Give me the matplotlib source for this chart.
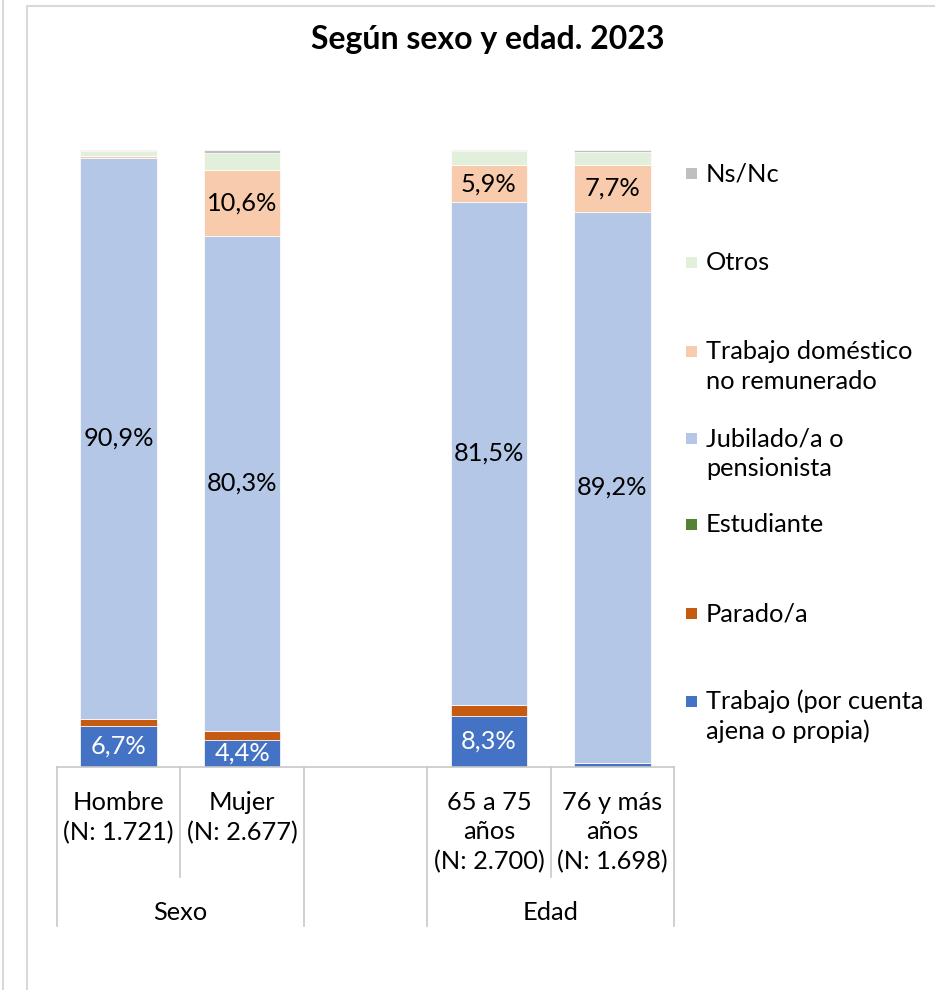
import matplotlib
matplotlib.use("Agg")
import matplotlib.pyplot as plt
import matplotlib.patches as mpatches
import matplotlib.transforms as mtrans
import numpy as np

plt.rcParams['font.family'] = ['Lato', 'DejaVu Sans']

# ---- data ----
categories = ["Hombre\n(N: 1.721)", "Mujer\n(N: 2.677)", "", "65 a 75\naños\n(N: 2.700)", "76 y más\naños\n(N: 1.698)"]
groups = ["Sexo", "Edad"]
series_names = ["Trabajo (por cuenta\najena o propia)", "Parado/a", "Estudiante",
                "Jubilado/a o\npensionista", "Trabajo doméstico\nno remunerado", "Otros", "Ns/Nc"]
trabajo    = [6.7, 4.4, np.nan, 8.3, 0.6]
parado     = [1.1, 1.4, np.nan, 1.8, 0.1]
estudiante = [0.0, 0.0, np.nan, 0.0, 0.0]
jubilado   = [90.9, 80.3, np.nan, 81.5, 89.2]
domestico  = [0.4, 10.6, np.nan, 5.9, 7.7]
otros      = [0.8, 2.8, np.nan, 2.3, 2.0]
nsnc       = [0.1, 0.5, np.nan, 0.2, 0.4]
series = [trabajo, parado, estudiante, jubilado, domestico, otros, nsnc]
colors = ["#4472C4", "#C55A11", "#548235", "#B4C7E7", "#F8CBAD", "#E2EFDA", "#BFBFBF"]
label_colors = ["white", "black", "black", "black", "black", "black", "black"]
label_threshold = 4.0

FS = 18.3
LS = 1.33

W, H = 935, 990
fig = plt.figure(figsize=(W / 100, H / 100), dpi=100)

def fx(px):
    return px / W

def fy(py):
    return 1 - py / H

# outer frames
fig.add_artist(mpatches.Rectangle((fx(27), -0.1), 2, fy(6) + 0.1, transform=fig.transFigure,
                                  fill=False, edgecolor="#D9D9D9", lw=1.5))
fig.add_artist(plt.Line2D([fx(3), fx(3)], [0, 1], transform=fig.transFigure, color="#D9D9D9", lw=1.5))

ax = fig.add_axes([fx(57), fy(767), fx(674) - fx(57), fy(150) - fy(767)])
x = np.arange(len(categories))
bottom = np.zeros(len(categories))
for vals, col, lc in zip(series, colors, label_colors):
    v = np.array(vals, dtype=float)
    vv = np.nan_to_num(v)
    ax.bar(x, vv, bottom=bottom, width=0.62, color=col, edgecolor="white", linewidth=0.5)
    for i in range(len(x)):
        if not np.isnan(v[i]) and v[i] >= label_threshold:
            ax.text(x[i], bottom[i] + v[i] / 2, f"{v[i]:.1f}%".replace(".", ","),
                    ha="center", va="center", fontsize=FS, color=lc)
    bottom += vv

ax.set_xlim(-0.5, len(categories) - 0.5)
ax.set_ylim(0, 100)
ax.set_xticks([])
ax.set_yticks([])
for s in ["top", "right", "left"]:
    ax.spines[s].set_visible(False)
ax.spines["bottom"].set_color("#C8C8C8")
ax.spines["bottom"].set_linewidth(1.2)

# category axis (multi-level)
bt = mtrans.blended_transform_factory(ax.transData, fig.transFigure)
inner = [0.5, 3.5]
outer = [-0.5, 1.5, 2.5, 4.5]
for b in inner:
    ax.plot([b, b], [fy(767), fy(877)], transform=bt, color="#C8C8C8", lw=1.2, clip_on=False)
for b in outer:
    ax.plot([b, b], [fy(767), fy(926)], transform=bt, color="#C8C8C8", lw=1.2, clip_on=False)

for i, c in enumerate(categories):
    if not c:
        continue
    nl = c.count("\n") + 1
    yc = 803 + (nl - 1) * 14.5
    ax.text(i, fy(yc), c, transform=bt, ha="center", va="center", fontsize=FS,
            linespacing=LS, color="black")
ax.text(0.5, fy(912), groups[0], transform=bt, ha="center", va="center", fontsize=FS)
ax.text(3.5, fy(912), groups[1], transform=bt, ha="center", va="center", fontsize=FS)

# title
fig.text(fx(488), fy(40), "Según sexo y edad. 2023", ha="center", va="center",
         fontsize=23, fontweight="bold")

# legend (top to bottom: reversed series order)
leg_y = [173, 262, 351, 438, 524, 613, 701]
for name, col, yy in zip(series_names[::-1], colors[::-1], leg_y):
    fig.add_artist(mpatches.Rectangle((fx(686), fy(yy + 6)), fx(11), fy(yy - 5) - fy(yy + 6),
                                      transform=fig.transFigure, facecolor=col, edgecolor="none"))
    nl = name.count("\n") + 1
    fig.text(fx(706), fy(yy + 1 + (nl - 1) * 14.5), name, ha="left", va="center", fontsize=FS,
             linespacing=LS)

fig.savefig("out.png", dpi=100)
